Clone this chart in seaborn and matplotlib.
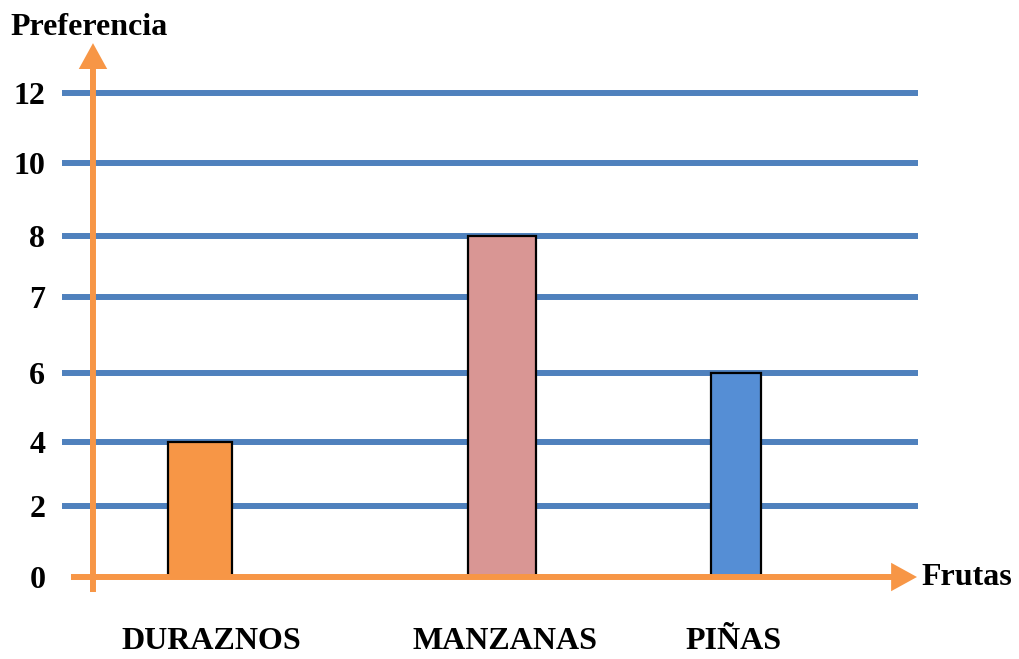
import numpy as np
import matplotlib
matplotlib.use("Agg")
import matplotlib.pyplot as plt
import seaborn as sns

# data
frutas = ["DURAZNOS", "MANZANAS", "PIÑAS"]
preferencia = [4, 8, 6]
colores = ["#F79646", "#D99694", "#558ED5"]
y_ticks = [0, 2, 4, 6, 7, 8, 10, 12]

# the hand-made axis is not evenly spaced: height (px above 0) of every tick
tick_heights = [0, 71, 135, 204, 280, 341, 414, 484]

ORANGE = "#F79646"
BLUE = "#4F81BD"

sns.set_theme(style="white")
plt.rcParams["font.family"] = ["Liberation Serif", "DejaVu Serif"]
plt.rcParams["font.weight"] = "bold"
plt.rcParams["text.color"] = "black"
plt.rcParams["xtick.color"] = "black"
plt.rcParams["ytick.color"] = "black"
FS = 23

fig = plt.figure(figsize=(10.19, 6.59), dpi=100)
W, H = 1019, 659
# axes spans from the left end of the grid lines to their right end,
# and from the 0 line up to the 12 line
ax = fig.add_axes([62 / W, 82 / H, 856 / W, 484 / H])

sns.barplot(x=frutas, y=preferencia, hue=frutas, palette=colores,
            legend=False, edgecolor="black", linewidth=1.6,
            saturation=1, ax=ax, zorder=3)

# bars are not evenly placed / sized in the original
shifts = [0.0, 0.0, -0.225]
widths = [0.214, 0.226, 0.163]
for i, (p, dx, w) in enumerate(zip(ax.patches, shifts, widths)):
    p.set_x(i + dx - w / 2)
    p.set_width(w)


def fwd(v):
    return np.interp(v, y_ticks, tick_heights)


def inv(p):
    return np.interp(p, tick_heights, y_ticks)


ax.set_yscale("function", functions=(fwd, inv))
ax.set_ylim(0, 12)
ax.set_xlim((62 - 200) / 302, (918 - 200) / 302)

ax.hlines(y_ticks[1:], *ax.get_xlim(), color=BLUE, lw=4.3, zorder=1,
          clip_on=False)

ax.set_yticks(y_ticks, [str(t) for t in y_ticks])
label_shift = [0.036, 0.01, -0.235]
ax.set_xticks(np.arange(len(frutas)) + np.array(label_shift), frutas)
ax.tick_params(axis="y", length=0, pad=12, labelsize=FS, labelcolor="black")
ax.tick_params(axis="x", length=0, pad=36, labelsize=FS, labelcolor="black")
for t in ax.get_xticklabels() + ax.get_yticklabels():
    t.set_fontweight("bold")
ax.set_xlabel("")
ax.set_ylabel("")
for s in ax.spines.values():
    s.set_visible(False)

# arrow axes
arrow = dict(arrowstyle="-|>,head_length=1.0,head_width=0.55", color=ORANGE,
             lw=4.3, shrinkA=0, shrinkB=0, mutation_scale=12,
             capstyle="butt", joinstyle="miter")
ax.annotate("", xy=(0.9988, 0), xytext=(0.0105, 0), xycoords="axes fraction",
            textcoords="axes fraction", arrowprops=arrow, zorder=4,
            annotation_clip=False)
ax.annotate("", xy=(0.0362, 1.103), xytext=(0.0362, -0.031),
            xycoords="axes fraction", textcoords="axes fraction",
            arrowprops=arrow, zorder=4, annotation_clip=False)

fig.text(10 / W, 1 - 35 / H, "Preferencia", fontsize=FS, fontweight="bold",
         ha="left", va="baseline")
fig.text(921 / W, 1 - 585 / H, "Frutas", fontsize=FS, fontweight="bold",
         ha="left", va="baseline")

fig.savefig("out.png", dpi=100)
